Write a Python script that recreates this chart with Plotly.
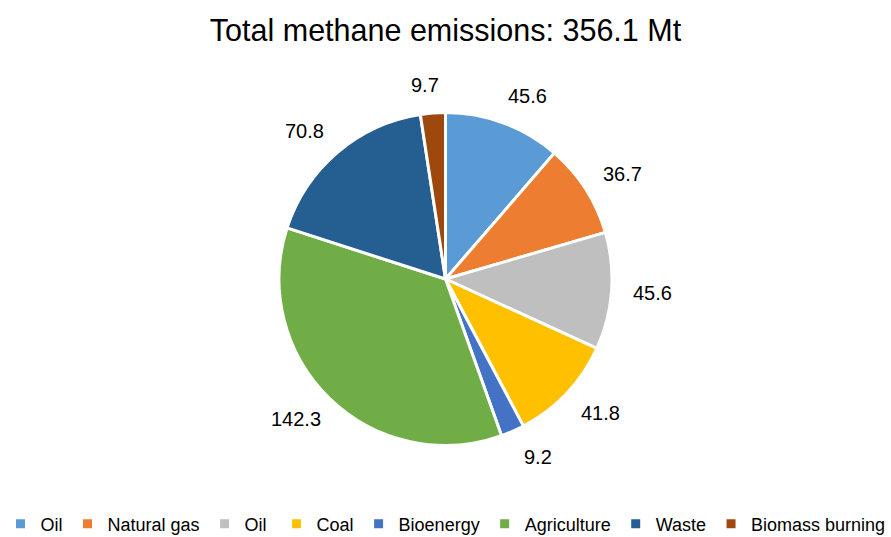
import math
import plotly.graph_objects as go

title_text = "Total methane emissions: 356.1 Mt"
labels = ["Oil", "Natural gas", "Oil ", "Coal", "Bioenergy", "Agriculture", "Waste", "Biomass burning"]
values = [45.6, 36.7, 45.6, 41.8, 9.2, 142.3, 70.8, 9.7]
colors = ["#5B9BD5", "#ED7D31", "#BFBFBF", "#FFC000", "#4472C4", "#70AD47", "#255E91", "#9E480E"]

FONT = "Liberation Sans Narrow, Arial Narrow, Liberation Sans, Arial, sans-serif"
W, H = 891, 537
CX, CY = 445.0, 279.0     # pie centre in pixels from top-left
R = 166.5                 # pie radius in pixels
LABEL_RX = 193.0          # label distance along the mid-angle (horizontal part)
LABEL_RY = 195.0          # label distance along the mid-angle (vertical part)
LABEL_PUSH = 15.0         # extra sideways push of the label box away from the pie

dom_y = [(H - CY - R) / H, (H - CY + R) / H]

fig = go.Figure(go.Pie(
    labels=labels,
    values=values,
    sort=False,
    direction="clockwise",
    rotation=0,
    marker=dict(colors=colors, line=dict(color="white", width=3)),
    textinfo="none",
    hoverinfo="label+value",
    domain=dict(x=[0.0, 1.0], y=dom_y),
))

# value labels placed outside the pie at each slice's mid angle
total = sum(values)
cum = 0.0
annotations = []
for v in values:
    mid = (cum + v / 2) / total * 2 * math.pi
    cum += v
    s, c = math.sin(mid), math.cos(mid)
    push = LABEL_PUSH * math.copysign(1.0, s) * min(1.0, abs(s) * 5)
    px = CX + LABEL_RX * s + push
    py = CY - LABEL_RY * c
    annotations.append(dict(
        x=px / W, y=1 - py / H, xref="paper", yref="paper",
        text=f"{v}", showarrow=False, xanchor="center", yanchor="middle",
        font=dict(family=FONT, size=20, color="#000000"),
    ))

fig.update_layout(
    width=W, height=H,
    margin=dict(l=0, r=0, t=0, b=0, autoexpand=False),
    paper_bgcolor="white",
    title=dict(text=title_text, x=0.5, xanchor="center", y=1 - 30 / H, yanchor="middle",
               font=dict(family=FONT, size=30.5, color="#000000")),
    showlegend=True,
    legend=dict(orientation="h", x=0.5, xanchor="center", y=1 - 524 / H, yanchor="middle",
                font=dict(family=FONT, size=18, color="#000000"), itemwidth=30),
    annotations=annotations,
    font=dict(family=FONT),
)

fig.write_html("out.html")
